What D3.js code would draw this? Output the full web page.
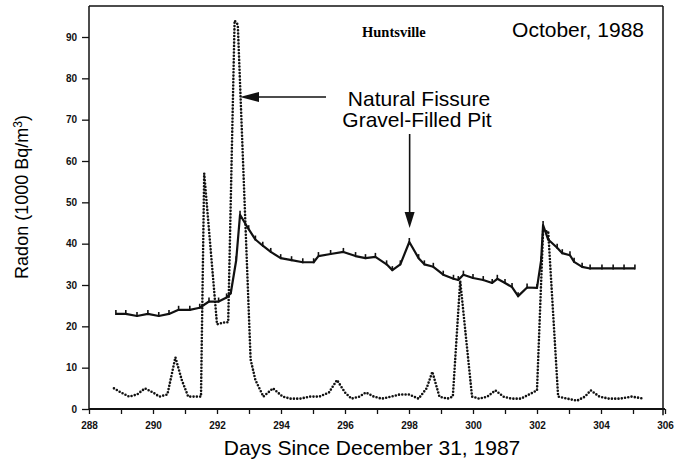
<!DOCTYPE html>
<meta charset="utf-8">
<style>
    body { margin: 0; background: #fff; }
    .axis path { display: none; }
    .axis line { stroke: #111; stroke-width: 1.3; }
    .axis text { font-family: "Liberation Sans", Arial, sans-serif; font-weight: bold; font-size: 10px; fill: #111; }
</style>

<svg width="678" height="468"></svg>

<script src="https://cdn.jsdelivr.net/npm/d3@7"></script>

<script>
    // solid line: Natural Fissure
    var fissureDays = [288.84, 289.15, 289.5, 289.84, 290.18, 290.5, 290.8, 291.15, 291.46, 291.75,
        292.05, 292.3, 292.43, 292.6, 292.72, 292.99, 293.2, 293.43, 293.68, 293.99,
        294.33, 294.68, 295.02, 295.17, 295.55, 295.95, 296.33, 296.64, 296.95, 297.3,
        297.48, 297.73, 298.01, 298.3, 298.48, 298.76, 299.07, 299.39, 299.54, 299.7,
        300.0, 300.32, 300.6, 300.76, 301.0, 301.22, 301.41, 301.69, 302.0, 302.13,
        302.19, 302.35, 302.63, 302.79, 303.03, 303.16, 303.41, 303.66, 304.03, 304.38,
        304.72, 305.06];
    var fissureVals = [23, 23, 22.5, 23, 22.5, 23, 24, 24, 24.5, 26,
        26, 27, 28, 36, 47, 43.5, 41, 39.5, 38, 36.5,
        36, 35.5, 35.5, 37, 37.5, 38, 37, 36.5, 36.8, 35,
        33.6, 35, 40.4, 36.5, 35, 34.4, 32.5, 31.5, 31.2, 32.5,
        31.7, 31.2, 30.5, 31.5, 30.5, 29.5, 27.3, 29.4, 29.3, 36,
        44.5, 41, 39, 37.7, 37.2, 35.6, 34.4, 34, 34, 34,
        34, 34];

    // dotted line: Gravel-Filled Pit
    var pitDays = [288.78, 289.0, 289.25, 289.5, 289.75, 290.0, 290.2, 290.45, 290.7, 290.9,
        291.1, 291.35, 291.5, 291.6, 292.0, 292.25, 292.35, 292.55, 292.65, 293.05,
        293.2, 293.45, 293.75, 294.05, 294.3, 294.6, 294.9, 295.2, 295.5, 295.75,
        296.0, 296.2, 296.45, 296.65, 296.9, 297.15, 297.45, 297.7, 298.0, 298.3,
        298.55, 298.73, 298.95, 299.2, 299.37, 299.6, 299.97, 300.2, 300.45, 300.7,
        300.95, 301.2, 301.5, 301.75, 302.0, 302.19, 302.35, 302.66, 302.95, 303.25,
        303.5, 303.68, 303.95, 304.25, 304.6, 304.95, 305.35];
    var pitVals = [5, 4, 3, 3.5, 5, 4, 3, 3.5, 12.5, 7,
        3, 3, 3, 57, 20.5, 21, 21, 94, 93, 12,
        7, 3, 5, 3, 2.5, 2.5, 3, 3, 4, 7,
        4, 2.5, 3, 4, 3, 2.5, 3, 3.5, 3.5, 2.5,
        5, 9, 3, 2.5, 3, 31, 3, 2.5, 3, 4.5,
        3, 2.5, 2.5, 3.5, 4.5, 43, 43, 3, 2.5, 2,
        3, 4.5, 3, 2.5, 2.5, 3, 2.5];

    var yTicks = [0, 10, 20, 30, 40, 50, 60, 70, 80, 90];
    var xTickDays = d3.range(288, 307, 1);
    var xLabelDays = [288, 290, 292, 294, 296, 298, 300, 302, 304, 306];

    var svg = d3.select("svg"),
        x = d3.scaleLinear().domain([288, 306]).range([89, 665]),
        y = d3.scaleLinear().domain([0, 90]).range([409, 37]);

    var fissure = fissureDays.map(function (d, i) { return [d, fissureVals[i]]; });
    var pit = pitDays.map(function (d, i) { return [d, pitVals[i]]; });

    // frame
    var frame = svg.append("g").attr("stroke", "#111").attr("stroke-width", 1.5);
    frame.append("line").attr("x1", x(288)).attr("x2", x(288)).attr("y1", y(0)).attr("y2", y(97.5));
    frame.append("line").attr("x1", x(288)).attr("x2", x(306) - 2).attr("y1", y(97.5)).attr("y2", y(97.5));
    frame.append("line").attr("x1", x(306) - 2).attr("x2", x(306) - 2).attr("y1", y(97.5)).attr("y2", y(-1.5));
    frame.append("line").attr("x1", x(288)).attr("x2", x(306)).attr("y1", y(0)).attr("y2", y(0)).attr("stroke-width", 2);

    svg.append("g")
        .attr("class", "axis")
        .attr("transform", "translate(" + [x(288), 0] + ")")
        .call(d3.axisLeft(y).tickValues(yTicks).tickSize(7).tickPadding(5));

    svg.append("g")
        .attr("class", "axis")
        .attr("transform", "translate(" + [0, y(0)] + ")")
        .call(d3.axisBottom(x).tickValues(xTickDays).tickSize(5).tickPadding(8)
            .tickFormat(function (d) { return xLabelDays.indexOf(d) >= 0 ? d : ""; }));

    var line = d3.line()
        .x(function (d) { return x(d[0]); })
        .y(function (d) { return y(d[1]); });

    svg.append("path")
        .datum(pit)
        .attr("d", line)
        .attr("fill", "none")
        .attr("stroke", "#111")
        .attr("stroke-width", 2.6)
        .attr("stroke-linecap", "round")
        .attr("stroke-dasharray", "0 3.3");

    svg.append("path")
        .datum(fissure)
        .attr("d", line)
        .attr("fill", "none")
        .attr("stroke", "#111")
        .attr("stroke-width", 2.2)
        .attr("stroke-linejoin", "round");

    // small ticks on the solid line
    svg.selectAll(".mark")
        .data(fissure)
        .enter()
        .append("line")
        .attr("x1", function (d) { return x(d[0]); })
        .attr("x2", function (d) { return x(d[0]); })
        .attr("y1", function (d) { return y(d[1]) - 4; })
        .attr("y2", function (d) { return y(d[1]) + 1; })
        .attr("stroke", "#111")
        .attr("stroke-width", 1.6);

    // annotations
    var sans = "'Liberation Sans', Arial, sans-serif";
    svg.append("text").attr("x", 362).attr("y", 37)
        .attr("font-family", "'Liberation Serif', 'Times New Roman', serif")
        .attr("font-weight", "bold").attr("font-size", 14.5).text("Huntsville");
    svg.append("text").attr("x", 644).attr("y", 37).attr("text-anchor", "end")
        .attr("font-family", sans).attr("font-size", 21).text("October, 1988");
    svg.append("text").attr("x", 419).attr("y", 106).attr("text-anchor", "middle")
        .attr("font-family", sans).attr("font-size", 21).text("Natural Fissure");
    svg.append("text").attr("x", 417).attr("y", 127).attr("text-anchor", "middle")
        .attr("font-family", sans).attr("font-size", 21).text("Gravel-Filled Pit");

    // arrow to the pit spike
    svg.append("line").attr("x1", 326).attr("x2", 252).attr("y1", 97).attr("y2", 97)
        .attr("stroke", "#111").attr("stroke-width", 1.6);
    svg.append("path").attr("d", "M240,97 L259,92 L259,102 Z").attr("fill", "#111");

    // arrow to the fissure bump
    svg.append("line").attr("x1", x(298.02)).attr("x2", x(298.02)).attr("y1", 134).attr("y2", 216)
        .attr("stroke", "#111").attr("stroke-width", 1.6);
    svg.append("path")
        .attr("d", "M" + x(298.02) + ",228 L" + (x(298.02) - 5) + ",212 L" + (x(298.02) + 5) + ",212 Z")
        .attr("fill", "#111");

    svg.append("text")
        .attr("transform", "translate(28,197) rotate(-90)")
        .attr("text-anchor", "middle")
        .attr("font-family", sans).attr("font-size", 18)
        .html("Radon (1000 Bq/m<tspan dy='-6' font-size='12'>3</tspan><tspan dy='6'>)</tspan>");

    svg.append("text").attr("x", 372).attr("y", 455).attr("text-anchor", "middle")
        .attr("font-family", sans).attr("font-size", 21).text("Days Since December 31, 1987");
</script>
